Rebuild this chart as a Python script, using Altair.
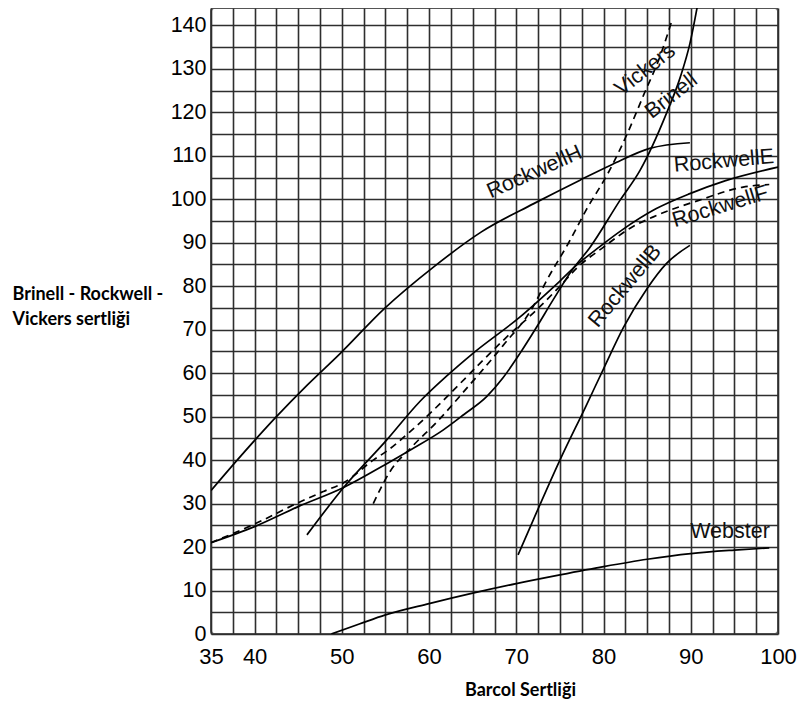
import altair as alt
import pandas as pd

# ---- curve data (Barcol value -> hardness value) ----
brinell_x = [35, 40, 45, 50.2, 55, 58, 61.6, 64, 66.6, 68.5, 70.4, 72.3, 74.2, 76.5, 78.4, 81.9, 84.2, 87.2, 88.8, 89.9, 90.9]
brinell_y = [21, 24.7, 29.3, 33.7, 39, 42.5, 46.9, 50.5, 54.6, 59, 64.5, 70.5, 76.8, 84, 88.8, 99.8, 106.7, 119.7, 128.1, 135.8, 146]

rockE_x = [46, 50.2, 55, 59, 62, 65, 70.4, 75, 77, 79.5, 82.1, 86, 89.9, 94, 100]
rockE_y = [22.8, 33.7, 44.3, 53.6, 59.3, 64.5, 72.9, 81.2, 85, 89, 92.9, 97.8, 101.3, 104.3, 107.4]

rockF_x = [35, 40, 45, 47.9, 50.2, 53.6, 55.1, 57.8, 60.5, 63.5, 66.2, 69, 72.3, 75, 77, 80, 83.1, 86, 91, 96, 99]
rockF_y = [21, 25.3, 30.2, 32.8, 34.8, 40, 42, 46.5, 51.5, 57.5, 63, 68.5, 74.5, 80, 84.3, 89, 93.4, 96.2, 99.8, 102.8, 103.4]

vickers_x = [53.6, 55.5, 58, 61, 64.3, 68.5, 71.9, 73.5, 76, 78, 80.7, 82.7, 84.6, 86.5, 87.9]
vickers_y = [30, 37.3, 43, 49, 56.5, 66.4, 75.2, 81.4, 90, 97.5, 106.7, 115, 124, 133, 141.5]

rockH_x = [35, 38, 42.5, 46, 49.8, 54.9, 60.5, 66, 72, 77.3, 81, 85.3, 89.9]
rockH_y = [33, 40, 50, 57.2, 64.5, 74.9, 84.4, 92.5, 99, 104.4, 108, 111.7, 113]

rockB_x = [70.2, 72, 75, 78, 80, 82.3, 85, 87.2, 89.9]
rockB_y = [18.2, 26.5, 40, 52.5, 61, 70.6, 79.5, 85.2, 89.4]

webster_x = [48.8, 52, 55, 60, 65, 70, 75, 80, 85, 90, 95, 99]
webster_y = [0, 2.3, 4.4, 7, 9.4, 11.6, 13.6, 15.5, 17.2, 18.5, 19.3, 19.8]

# ---- curve names on the chart ----
label_text = ["RockwellH", "RockwellE", "RockwellF", "RockwellB", "Vickers", "Brinell", "Webster"]
label_x = [72.1, 93.8, 93.4, 82.5, 84.8, 87.8, 94.5]
label_y = [106.2, 108.7, 98.2, 80, 129.7, 123.7, 23.4]
label_angle = [336, 355, 343, 310, 322, 322, 0]

# ---- axes ----
x_grid = [35, 37.5, 40, 42.5, 45, 47.5, 50, 52.5, 55, 57.5, 60, 62.5, 65, 67.5, 70,
          72.5, 75, 77.5, 80, 82.5, 85, 87.5, 90, 92.5, 95, 97.5, 100]
x_labels = [35, 40, 50, 60, 70, 80, 90, 100]
y_grid = [0, 5, 10, 15, 20, 25, 30, 35, 40, 45, 50, 55, 60, 65, 70, 75, 80, 85, 90,
          95, 100, 105, 110, 115, 120, 125, 130, 135, 140]


def frame(name, xs, ys):
    return pd.DataFrame({"barcol": xs, "value": ys, "series": name})


solid_df = pd.concat([
    frame("Brinell", brinell_x, brinell_y),
    frame("RockwellE", rockE_x, rockE_y),
    frame("RockwellH", rockH_x, rockH_y),
    frame("RockwellB", rockB_x, rockB_y),
    frame("Webster", webster_x, webster_y),
])
dashed_df = pd.concat([
    frame("RockwellF", rockF_x, rockF_y),
    frame("Vickers", vickers_x, vickers_y),
])
labels_df = pd.DataFrame({"barcol": label_x, "value": label_y,
                          "text": label_text, "angle": label_angle})

grid_color = "#2e2e2e"
x_scale = alt.Scale(domain=[35, 100], nice=False, zero=False)
y_scale = alt.Scale(domain=[0, 144], nice=False, zero=False)

x_label_list = ",".join(str(v) for v in x_labels)
x_axis = alt.Axis(
    values=x_grid,
    labelExpr=f"indexof([{x_label_list}], datum.value) >= 0 ? datum.label : ''",
    grid=True, gridColor=grid_color, gridWidth=1.6, gridOpacity=1,
    ticks=False, domain=False,
    labelFont="Liberation Sans", labelFontSize=22, labelColor="black",
    labelPadding=12, labelFlush=False, labelOverlap=False,
    title="Barcol Sertliği", titleFont="Lato", titleFontSize=18,
    titleFontWeight="bold", titleColor="black",
    titleX=309, titleY=56, titleAlign="center", titleBaseline="middle",
)
y_axis = alt.Axis(
    values=y_grid,
    labelExpr="datum.value % 10 == 0 ? datum.label : ''",
    grid=True, gridColor=grid_color, gridWidth=1.6, gridOpacity=1,
    ticks=False, domain=False,
    labelFont="Liberation Sans", labelFontSize=21.5, labelColor="black",
    labelPadding=5, labelFlush=False, labelOverlap=False,
    title=["Brinell - Rockwell -", "Vickers sertliği"], titleAngle=0,
    titleFont="Lato", titleFontSize=18, titleFontWeight="bold", titleColor="black",
    titleX=-199, titleY=286, titleAlign="left", titleBaseline="middle",
    titleLineHeight=25,
)

x_enc = alt.X("barcol:Q", scale=x_scale, axis=x_axis)
y_enc = alt.Y("value:Q", scale=y_scale, axis=y_axis)

solid = alt.Chart(solid_df).mark_line(
    color="black", strokeWidth=1.7, clip=True, interpolate="monotone"
).encode(x=x_enc, y=y_enc, detail="series:N")

dashed = alt.Chart(dashed_df).mark_line(
    color="black", strokeWidth=1.7, clip=True, interpolate="monotone",
    strokeDash=[7, 5]
).encode(x=x_enc, y=y_enc, detail="series:N")

labels = alt.Chart(labels_df).mark_text(
    font="Liberation Sans", fontSize=21.5, color="#111", align="center", baseline="middle"
).encode(
    x=x_enc, y=y_enc, text="text:N",
    angle=alt.Angle("angle:Q", scale=None),
)

chart = alt.layer(solid, dashed, labels).properties(
    width=567, height=626,
    padding={"left": 4, "top": 0, "right": 0, "bottom": 0},
).configure_view(
    stroke="#555", strokeWidth=2, cornerRadius=3
)

chart.save("out.html", embed_options={"renderer": "svg", "actions": False})
